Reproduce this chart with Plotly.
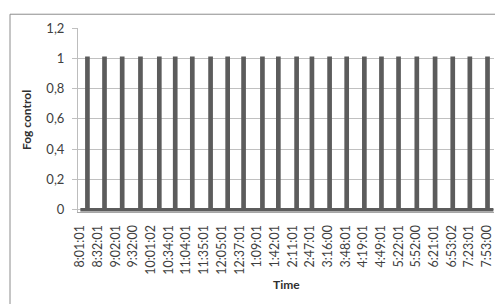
import plotly.graph_objects as go

# Category tick labels (every 30th record)
tick_labels = ["8:01:01", "8:32:01", "9:02:01", "9:32:00", "10:01:02", "10:34:01",
               "11:04:01", "11:35:01", "12:05:01", "12:37:01", "1:09:01", "1:42:01",
               "2:11:01", "2:47:01", "3:16:00", "3:48:01", "4:19:01", "4:49:01",
               "5:22:01", "5:52:00", "6:21:01", "6:53:02", "7:23:01", "7:53:00"]
tick_index = [i * 30 for i in range(len(tick_labels))]

# Record indices where fog control switches on / off
pulse_on = [11, 40, 70, 101, 133, 160, 189, 220, 249, 276, 308, 335,
            366, 392, 422, 451, 481, 510, 539, 570, 601, 631, 660, 690]
pulse_off = [13, 42, 72, 103, 135, 162, 191, 222, 251, 278, 310, 337,
             368, 394, 424, 453, 483, 512, 541, 572, 603, 633, 662, 692]
n_records = 702

xs, ys = [0], [0]
for a, b in zip(pulse_on, pulse_off):
    xs += [a, a, b, b]
    ys += [0, 1, 1, 0]
xs.append(n_records - 1)
ys.append(0)

fig = go.Figure()
fig.add_trace(go.Scatter(x=xs, y=ys, mode="lines",
                         line=dict(color="#5c5c5c", width=3.5), showlegend=False))

font_family = "Lato, 'Liberation Sans', sans-serif"
L, R, T, B = 70, 17, 17, 100
pw, ph = 503 - L - R, 304 - T - B

fig.update_layout(
    width=503, height=304,
    margin=dict(l=L, r=R, t=T, b=B),
    paper_bgcolor="white", plot_bgcolor="white",
    font=dict(family=font_family, size=12, color="#404040"),
    xaxis=dict(range=[-4, 702], tickmode="array", tickvals=tick_index,
               ticktext=tick_labels, tickangle=-90, showgrid=False,
               showline=True, linecolor="#a6a6a6", linewidth=1,
               ticks="", zeroline=False, ticklabelstandoff=7,
               tickfont=dict(size=12.5, color="#404040")),
    yaxis=dict(range=[-0.015, 1.2], tickvals=[0, 0.2, 0.4, 0.6, 0.8, 1.0, 1.2],
               ticktext=["0", "0,2", "0,4", "0,6", "0,8", "1", "1,2"],
               showgrid=True, gridcolor="#c0c0c0", gridwidth=1,
               showline=True, linecolor="#bdbdbd", zeroline=False,
               ticks="outside", ticklen=5, tickcolor="#c0c0c0",
               ticklabelstandoff=5,
               tickfont=dict(size=13),
               title=dict(text="<b>Fog control</b>", font=dict(size=12, color="#303030"), standoff=12)),
)

# x-axis title
fig.add_annotation(text="<b>Time</b>", xref="paper", yref="paper",
                   x=0.5, y=-(278 - (304 - B)) / ph, xanchor="center", yanchor="middle",
                   showarrow=False, font=dict(size=12, color="#303030", family=font_family))

# outer chart border
fig.add_shape(type="rect", xref="paper", yref="paper",
              x0=(2 - L) / pw, x1=(499 - L) / pw,
              y0=-(300 - (304 - B)) / ph, y1=1 + (T - 3) / ph,
              line=dict(color="#8c8c8c", width=1), fillcolor="rgba(0,0,0,0)")

fig.write_html("out.html")
